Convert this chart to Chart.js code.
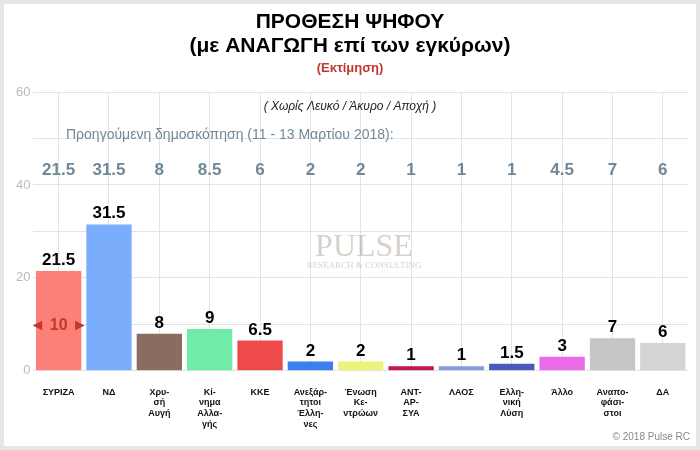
<!DOCTYPE html><html><head><meta charset="utf-8"><script src="https://cdn.jsdelivr.net/npm/chart.js@4"></script>
<style>html,body{margin:0;background:#e6e6e6}#w{position:absolute;left:4px;top:4px;width:692px;height:442px;background:#fff}</style></head><body>
<div id="w"><canvas id="c" width="692" height="442"></canvas></div>
<script>
const categories=[["ΣΥΡΙΖΑ"],["ΝΔ"],["Χρυ-","σή","Αυγή"],["Κί-","νημα","Αλλα-","γής"],["ΚΚΕ"],["Ανεξάρ-","τητοι","Έλλη-","νες"],["Ένωση","Κε-","ντρώων"],["ΑΝΤ-","ΑΡ-","ΣΥΑ"],["ΛΑΟΣ"],["Ελλη-","νική","Λύση"],["Άλλο"],["Αναπο-","φάσι-","στοι"],["ΔΑ"]];
const values=[21.5,31.5,8,9,6.5,2,2,1,1,1.5,3,7,6];
const previous=[21.5,31.5,8,8.5,6,2,2,1,1,1,4.5,7,6];
const yTicks=[0,20,40,60];
const colors=["#fc8077","#7aaefc","#8a6c60","#6eeca8","#ef4a4a","#3b7fea","#eef27a","#c0145a","#8a9ad8","#4a5ab8","#ea6aea","#c6c6c6","#d4d4d4"];
const overlay={id:'ov',afterDatasetsDraw(ch){const c=ch.ctx,x=ch.scales.x,y=ch.scales.y;c.save();c.textAlign='center';
c.fillStyle='#000';c.font='bold 21px "Liberation Sans"';c.fillText('ΠΡΟΘΕΣΗ ΨΗΦΟΥ',346,24);c.fillText('(με ΑΝΑΓΩΓΗ επί των εγκύρων)',346,48);
c.fillStyle='#c0392b';c.font='bold 13px "Liberation Sans"';c.fillText('(Εκτίμηση)',346,68);
c.fillStyle='#222';c.font='italic 12px "Liberation Sans"';c.fillText('( Χωρίς Λευκό / Άκυρο / Αποχή )',346,106);
c.fillStyle='#6f8899';c.font='14px "Liberation Sans"';c.textAlign='left';c.fillText('Προηγούμενη δημοσκόπηση (11 - 13 Μαρτίου 2018):',62,135);
c.textAlign='center';c.font='bold 17px "Liberation Sans"';previous.forEach((v,i)=>c.fillText(String(v),x.getPixelForValue(i),171));
c.globalAlpha=0.35;c.fillStyle='#8a7a6a';c.font='32px "Liberation Serif"';c.fillText('PULSE',360,252);c.font='9px "Liberation Serif"';c.fillText('RESEARCH & CONSULTING',360,264);c.globalAlpha=1;
c.fillStyle='#000';c.font='bold 17px "Liberation Sans"';values.forEach((v,i)=>c.fillText(String(v),x.getPixelForValue(i),y.getPixelForValue(v)-6));
c.fillStyle='#c0392b';c.font='bold 16px "Liberation Sans"';c.fillText('◄ 10 ►',x.getPixelForValue(0),y.getPixelForValue(10)+6);
c.fillStyle='#888';c.font='10px "Liberation Sans"';c.textAlign='right';c.fillText('© 2018 Pulse RC',686,436);
c.restore();}};
new Chart(document.getElementById('c'),{type:'bar',data:{labels:categories,datasets:[{data:values,backgroundColor:colors,barPercentage:0.9,categoryPercentage:1}]},
options:{responsive:false,animation:false,layout:{padding:{top:88,right:8,left:9}},plugins:{legend:{display:false},tooltip:{enabled:false}},
scales:{y:{min:0,max:60,ticks:{stepSize:10,color:'#bbb',font:{size:13,family:'Liberation Sans'},callback:v=>yTicks.includes(v)?v:''},grid:{color:'#e4e4e4',drawTicks:false},border:{display:false}},
x:{ticks:{color:'#111',font:{size:9,weight:'bold',family:'Liberation Sans'},maxRotation:0,autoSkip:false,padding:16},grid:{color:'#e4e4e4',offset:false,drawTicks:false},border:{display:false}}}},plugins:[overlay]});
</script></body></html>
